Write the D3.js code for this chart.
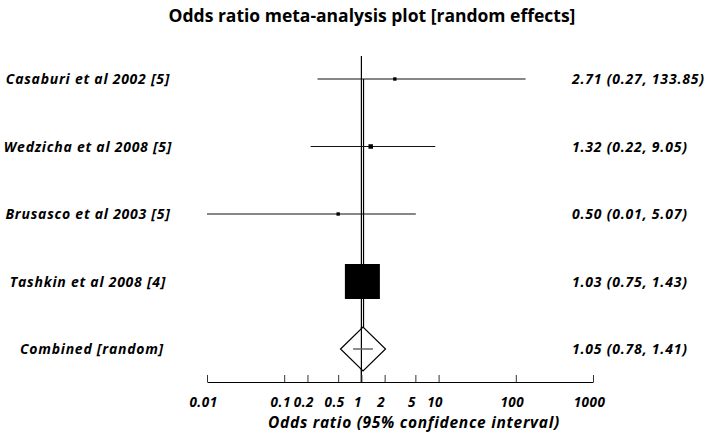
<!DOCTYPE html>
<html>
<head>
<meta charset="utf-8">
<script src="https://cdn.jsdelivr.net/npm/d3@7"></script>
<style>
  body { margin: 0; background: #fff; }
  text { font-family: "Open Sans", Lato, sans-serif; font-weight: bold; fill: #000; }
</style>
</head>
<body>
<script>
var studies = ["Casaburi et al 2002 [5]", "Wedzicha et al 2008 [5]", "Brusasco et al 2003 [5]", "Tashkin et al 2008 [4]"];
var oddsRatio = [2.71, 1.32, 0.50, 1.03];
var lowerCI = [0.27, 0.22, 0.01, 0.75];
var upperCI = [133.85, 9.05, 5.07, 1.43];
var weights = [0.9, 1.6, 0.9, 96.6];
var pooledLabel = "Combined [random]";
var pooled = [1.05, 0.78, 1.41];
var tickValues = [0.01, 0.1, 0.2, 0.5, 1, 2, 5, 10, 100, 1000];
var tickLabels = ["0.01", "0.1", "0.2", "0.5", "1", "2", "5", "10", "100", "1000"];

function drawForestPlot(){
	var svg = d3.select("body").append("svg").attr("width", 707).attr("height", 442);

	var rows = studies.concat([pooledLabel]);
	var x = d3.scaleLog().domain([0.01, 1000]).range([207, 593]);
	var y = d3.scalePoint().domain(rows).range([79, 349]);
	var side = d3.scaleSqrt().domain([0, d3.max(weights)]).range([0, 35]);
	var axisY = 382;

	svg.append("text").attr("x", 372).attr("y", 22).attr("text-anchor", "middle")
		.style("font-size", "17.5px").text("Odds ratio meta-analysis plot [random effects]");

	// null line and pooled estimate line
	svg.append("line").attr("x1", x(1)).attr("x2", x(1)).attr("y1", 56).attr("y2", axisY)
		.attr("stroke", "#000").attr("stroke-width", 1.2);
	svg.append("line").attr("x1", x(pooled[0]) + 0.5).attr("x2", x(pooled[0]) + 0.5)
		.attr("y1", y(rows[0])).attr("y2", y(pooledLabel) - 22)
		.attr("stroke", "#000").attr("stroke-width", 1.2);

	var data = studies.map(function(d, i){
		return {name: d, or: oddsRatio[i], lo: lowerCI[i], hi: upperCI[i], w: weights[i]};
	});

	var g = svg.selectAll("g.study").data(data).enter().append("g").attr("class", "study");

	g.append("line")
		.attr("x1", function(d){ return x(d.lo); })
		.attr("x2", function(d){ return x(d.hi); })
		.attr("y1", function(d){ return y(d.name); })
		.attr("y2", function(d){ return y(d.name); })
		.attr("stroke", "#111").attr("stroke-width", 1.2);

	g.append("rect")
		.attr("x", function(d){ return x(d.or) - side(d.w) / 2; })
		.attr("y", function(d){ return y(d.name) - side(d.w) / 2; })
		.attr("width", function(d){ return side(d.w); })
		.attr("height", function(d){ return side(d.w); })
		.attr("fill", "#000");

	g.append("text").attr("x", 88).attr("y", function(d){ return y(d.name) + 5; })
		.attr("text-anchor", "middle").style("font-size", "14px").style("font-style", "italic")
		.style("letter-spacing", "0.75px")
		.text(function(d){ return d.name; });

	g.append("text").attr("x", 572).attr("y", function(d){ return y(d.name) + 5; })
		.style("font-size", "14px").style("font-style", "italic").style("letter-spacing", "0.8px")
		.text(function(d){ return d.or.toFixed(2) + " (" + d.lo.toFixed(2) + ", " + d.hi.toFixed(2) + ")"; });

	// pooled diamond
	var py = y(pooledLabel), px = x(pooled[0]);
	svg.append("path")
		.attr("d", "M" + (px - 22.5) + "," + py + "L" + px + "," + (py - 22) + "L" + (px + 22.5) + "," + py + "L" + px + "," + (py + 22) + "Z")
		.attr("fill", "#fff").attr("stroke", "#000").attr("stroke-width", 1.2);
	svg.append("line").attr("x1", x(1)).attr("x2", x(1)).attr("y1", py - 22).attr("y2", axisY)
		.attr("stroke", "#000").attr("stroke-width", 1.2);
	svg.append("line").attr("x1", x(pooled[1])).attr("x2", x(pooled[2])).attr("y1", py).attr("y2", py)
		.attr("stroke", "#666").attr("stroke-width", 1.5);

	svg.append("text").attr("x", 92).attr("y", py + 5).attr("text-anchor", "middle")
		.style("font-size", "14px").style("font-style", "italic").style("letter-spacing", "0.75px")
		.text(pooledLabel);
	svg.append("text").attr("x", 572).attr("y", py + 5)
		.style("font-size", "14px").style("font-style", "italic").style("letter-spacing", "0.8px")
		.text(pooled[0].toFixed(2) + " (" + pooled[1].toFixed(2) + ", " + pooled[2].toFixed(2) + ")");

	// axis
	var axis = d3.axisTop(x).tickValues(tickValues).tickSize(7).tickSizeOuter(0)
		.tickFormat(function(d, i){ return tickLabels[i]; });
	var ax = svg.append("g").attr("transform", "translate(0," + axisY + ")").call(axis);
	ax.select(".domain").attr("stroke", "#000").attr("stroke-width", 1.2);
	ax.selectAll(".tick line").attr("stroke", "#333");
	ax.selectAll(".tick text").attr("y", 25).attr("dy", 0).attr("dx", -4)
		.style("font-family", "'Open Sans', sans-serif").style("font-weight", "bold")
		.style("font-style", "italic").style("font-size", "13.5px").style("letter-spacing", "0.5px")
		.attr("fill", "#000");

	svg.append("text").attr("x", 414).attr("y", 428).attr("text-anchor", "middle")
		.style("font-size", "15.5px").style("font-style", "italic").style("letter-spacing", "0.7px")
		.text("Odds ratio (95% confidence interval)");
}

drawForestPlot();
</script>
</body>
</html>
